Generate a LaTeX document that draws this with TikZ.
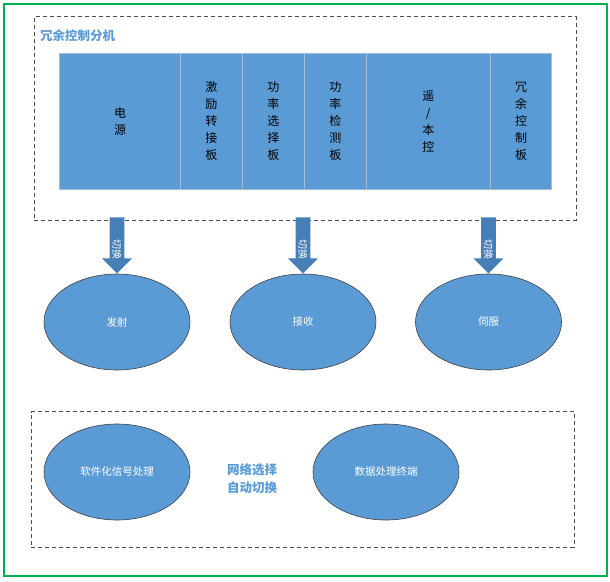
\documentclass[tikz,border=0pt]{standalone}
\usepackage{fontspec}
\setmainfont{Noto Sans CJK SC}
\usetikzlibrary{positioning,shapes.geometric,shapes.arrows}
\definecolor{boardblue}{RGB}{91,155,213}
\definecolor{arrowblue}{RGB}{70,126,182}
\definecolor{titleblue}{RGB}{91,155,213}
\definecolor{framegreen}{RGB}{0,176,80}
\definecolor{sepgray}{RGB}{165,190,215}

\begin{document}
\begin{tikzpicture}[
    x=1pt, y=-1pt,
    node distance=0pt,
    board/.style={fill=boardblue, draw=sepgray, line width=0.8pt, minimum height=136pt, inner sep=0pt, outer sep=0pt, align=center, font=\fontsize{12}{17}\selectfont, anchor=west},
    unit/.style={ellipse, fill=boardblue, draw=black!75, line width=0.6pt, minimum width=146pt, minimum height=96pt, inner sep=0pt, text=white, font=\fontsize{10.5}{12}\selectfont},
    groupbox/.style={draw=black!70, dash pattern=on 4pt off 3pt, line width=0.9pt, inner sep=0pt, outer sep=0pt},
    switcharrow/.style={single arrow, fill=arrowblue, rotate=-90, text=white, font=\fontsize{10}{10}\selectfont, inner sep=2.5pt, text width=36pt, align=right, minimum height=56pt, single arrow head extend=7.7pt, single arrow head indent=0pt, anchor=tip},
    caption/.style={text=titleblue, font=\bfseries\fontsize{12.5}{18}\selectfont, align=center}
]
\useasboundingbox (0,0) rectangle (610,581);
\node[draw=framegreen, line width=1.5pt, minimum width=603pt, minimum height=572pt, inner sep=0pt] (frame) at (305.5,290) {};

% redundancy control unit
\node[groupbox, minimum width=541.6pt, minimum height=203.3pt] (fj) at (305.2,118.35) {};
\node[caption, anchor=west] (title) at (36.5,36) {冗余控制分机};

\node[board, minimum width=120.5pt] (dy) at (59.8,121.3) {电\\源};
\node[board, minimum width=62pt, right=of dy] (jl) {激\\励\\转\\接\\板};
\node[board, minimum width=62pt, right=of jl] (gx) {功\\率\\选\\择\\板};
\node[board, minimum width=62pt, right=of gx] (gj) {功\\率\\检\\测\\板};
\node[board, minimum width=124pt, right=of gj] (yk) {遥\\/\\本\\控};
\node[board, minimum width=61.4pt, right=of yk] (ry) {冗\\余\\控\\制\\板};

% units
\node[unit] (fs) at (117,322) {发射};
\node[unit] (js) at (303,322) {接收};
\node[unit] (sf) at (488.5,322) {伺服};

\node[switcharrow] (q1) at (fs.north) {切换};
\node[switcharrow] (q2) at (js.north) {切换};
\node[switcharrow] (q3) at (sf.north) {切换};

% network group
\node[groupbox, minimum width=542.7pt, minimum height=136pt] (wl) at (302.65,479.7) {};
\node[unit] (rj) at (117,472) {软件化信号处理};
\node[unit] (sj) at (386,472) {数据处理终端};
\node[caption] (zd) at (252,479) {网络选择\\自动切换};
\end{tikzpicture}
\end{document}
